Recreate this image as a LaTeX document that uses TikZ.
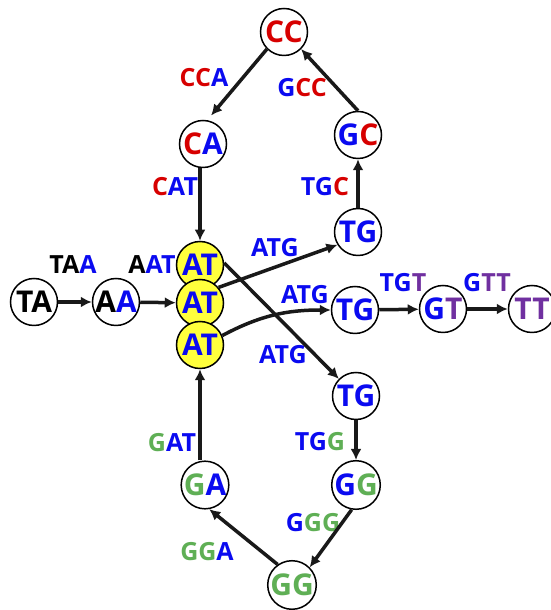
\documentclass[tikz,border=0pt]{standalone}
\usepackage{fontspec}
\setmainfont{Open Sans}
\usetikzlibrary{arrows.meta}
\definecolor{cblue}{RGB}{10,10,240}
\definecolor{cred}{RGB}{215,0,0}
\definecolor{cgreen}{RGB}{95,175,85}
\definecolor{cpurple}{RGB}{112,48,160}
\definecolor{cyel}{RGB}{255,255,60}
\newcommand{\colK}[1]{\textcolor{black}{#1}}
\newcommand{\colB}[1]{\textcolor{cblue}{#1}}
\newcommand{\colR}[1]{\textcolor{cred}{#1}}
\newcommand{\colG}[1]{\textcolor{cgreen}{#1}}
\newcommand{\colP}[1]{\textcolor{cpurple}{#1}}
\tikzset{
  kmer/.style={circle, draw=black, line width=1.5pt, fill=white, minimum size=47pt, inner sep=0pt,
    font=\fontsize{30}{30}\selectfont\bfseries},
  atnode/.style={kmer, fill=cyel},
  elabel/.style={inner sep=0pt, font=\fontsize{25}{25}\selectfont\bfseries},
  conn/.style={line width=3.5pt, draw=black!90, -{Latex[length=11pt,width=11pt]}}
}
\begin{document}
\begin{tikzpicture}[x=1pt,y=1pt]
\useasboundingbox (0,0) rectangle (550,610);
% nodes
\node[kmer] (TA) at (34,308) {\colK{TA}};
\node[kmer] (AA) at (116,308) {\colK{A}\colB{A}};
\node[atnode] (AT1) at (200,345) {\colB{AT}};
\node[atnode] (AT2) at (200,307) {\colB{AT}};
\node[atnode] (AT3) at (200,265) {\colB{AT}};
\node[kmer] (CC) at (284,578) {\colR{CC}};
\node[kmer] (CA) at (203,466) {\colR{C}\colB{A}};
\node[kmer] (GC) at (358,475) {\colB{G}\colR{C}};
\node[kmer] (TGt) at (358,378) {\colB{TG}};
\node[kmer] (TGm) at (355,300) {\colB{TG}};
\node[kmer] (GT) at (443,301) {\colB{G}\colP{T}};
\node[kmer] (TT) at (532,301) {\colP{TT}};
\node[kmer] (TGl) at (356,214) {\colB{TG}};
\node[kmer] (GGr) at (356,125) {\colB{G}\colG{G}};
\node[kmer] (GGb) at (292,25) {\colG{GG}};
\node[kmer] (GA) at (205,125) {\colG{G}\colB{A}};
% edge labels
\node[elabel] (lTAA) at (73,345) {\colK{TA}\colB{A}};
\node[elabel] (lAAT) at (152,345) {\colK{A}\colB{AT}};
\node[elabel] (lCCA) at (204,532) {\colR{CC}\colB{A}};
\node[elabel] (lGCC) at (302,522) {\colB{G}\colR{CC}};
\node[elabel] (lCAT) at (175,423) {\colR{C}\colB{AT}};
\node[elabel] (lTGC) at (325,423) {\colB{TG}\colR{C}};
\node[elabel] (lATGa) at (275,362) {\colB{ATG}};
\node[elabel] (lATGb) at (305,315) {\colB{ATG}};
\node[elabel] (lATGc) at (283,255) {\colB{ATG}};
\node[elabel] (lTGT) at (403,327) {\colB{TG}\colP{T}};
\node[elabel] (lGTT) at (487,327) {\colB{G}\colP{TT}};
\node[elabel] (lGAT) at (172,167) {\colG{G}\colB{AT}};
\node[elabel] (lTGG) at (320,168) {\colB{TG}\colG{G}};
\node[elabel] (lGGG) at (313,87) {\colB{G}\colG{GG}};
\node[elabel] (lGGA) at (207,58) {\colG{GG}\colB{A}};
% connectors
\draw[conn] (TA) -- (AA);
\draw[conn] (AA) -- (AT2);
\draw[conn, shorten >=6pt] (CC.225) -- (CA.80);
\draw[conn] (AT1.north |- CA.south) -- (AT1.north);
\draw[conn] (TGt) -- (GC);
\draw[conn] (GC.north) -- (CC.-45);
\draw[conn] (AT2.40) -- (TGt.212);
\draw[conn] (AT1.5) -- (TGl.135);
\draw[conn] (AT3.23) to[out=28,in=180] (TGm.west);
\draw[conn] (TGm) -- (GT);
\draw[conn] (GT) -- (TT);
\draw[conn] (TGl) -- (GGr);
\draw[conn] (GGr.-100) -- (GGb.45);
\draw[conn] (GGb.125) -- (GA.-80);
\draw[conn] (AT3.south |- GA.north) -- (AT3.south);
\end{tikzpicture}
\end{document}
